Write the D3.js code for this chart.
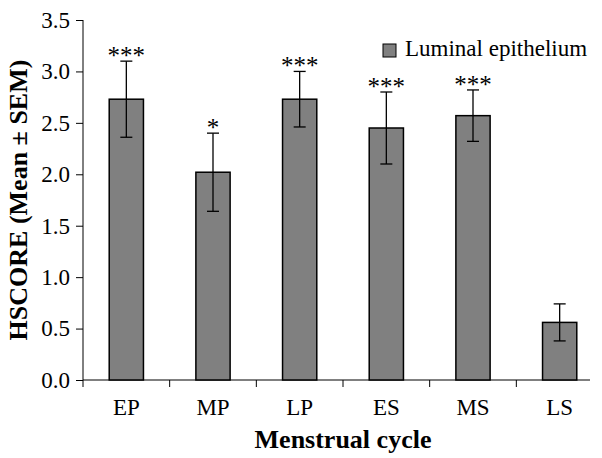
<!DOCTYPE html>
<html>
<head>
<meta charset="utf-8">
<script src="https://cdn.jsdelivr.net/npm/d3@7"></script>
<style>
	body { margin: 0; background: #fff; }
	svg { display: block; }
</style>
</head>
<body>
<div id="chart"></div>
<script>
const phases = ["EP", "MP", "LP", "ES", "MS", "LS"];
const means = [2.73, 2.02, 2.73, 2.45, 2.57, 0.56];
const sems = [0.37, 0.38, 0.27, 0.35, 0.25, 0.18];
const stars = ["***", "*", "***", "***", "***", ""];
const yTicks = [0, 0.5, 1, 1.5, 2, 2.5, 3, 3.5];

const width = 602;
const height = 458;
const margin = ({ top: 20, right: -1, bottom: 78, left: 83 });
const serif = "'Liberation Serif', 'Times New Roman', serif";

const data = phases.map((p, i) => ({ phase: p, mean: means[i], sem: sems[i], star: stars[i] }));

const x = d3.scaleBand()
	.domain(phases)
	.range([margin.left, width - margin.right]);

const y = d3.scaleLinear()
	.domain([0, 3.5])
	.range([height - margin.bottom, margin.top]);

const barW = x.bandwidth() * 0.395;

const svg = d3.select("#chart")
	.append("svg")
	.attr("width", width)
	.attr("height", height)
	.attr("viewBox", [0, 0, width, height]);

// y axis
svg.append("g")
	.attr("transform", `translate(${margin.left},0)`)
	.call(d3.axisLeft(y).tickValues(yTicks).tickFormat(d3.format(".1f")).tickSize(7).tickPadding(6))
	.call(g => g.select(".domain").attr("stroke", "#000").attr("d", `M0,${y(3.5)}V${y(0)}`))
	.call(g => g.selectAll(".tick line").attr("stroke", "#000"))
	.call(g => g.selectAll(".tick text")
		.attr("fill", "#000")
		.style("font-family", serif)
		.style("font-size", "23px"));

// x axis: ticks at band edges
const edges = phases.map(p => x(p)).concat([x(phases[phases.length - 1]) + x.step()]);
const xg = svg.append("g");
xg.append("line")
	.attr("x1", margin.left).attr("x2", 590)
	.attr("y1", y(0)).attr("y2", y(0))
	.attr("stroke", "#000");
xg.selectAll("line.tk")
	.data(edges.filter(e => e <= 590))
	.join("line")
	.attr("class", "tk")
	.attr("x1", d => d).attr("x2", d => d)
	.attr("y1", y(0)).attr("y2", y(0) + 7)
	.attr("stroke", "#000");
xg.selectAll("text")
	.data(phases)
	.join("text")
	.attr("x", d => x(d) + x.bandwidth() / 2)
	.attr("y", 415)
	.attr("text-anchor", "middle")
	.style("font-family", serif)
	.style("font-size", "23px")
	.attr("fill", "#000")
	.text(d => d);

// bars
svg.append("g")
	.selectAll("rect")
	.data(data)
	.join("rect")
	.attr("x", d => x(d.phase) + x.bandwidth() / 2 - barW / 2)
	.attr("y", d => y(d.mean))
	.attr("width", barW)
	.attr("height", d => y(0) - y(d.mean))
	.attr("fill", "#808080")
	.attr("stroke", "#000")
	.attr("stroke-width", 1.5);

// error bars
const eb = svg.append("g")
	.attr("stroke", "#000")
	.attr("stroke-width", 1.3);
const cx = d => x(d.phase) + x.bandwidth() / 2;
eb.selectAll("line.v")
	.data(data)
	.join("line")
	.attr("class", "v")
	.attr("x1", cx).attr("x2", cx)
	.attr("y1", d => y(d.mean + d.sem)).attr("y2", d => y(d.mean - d.sem));
eb.selectAll("line.t")
	.data(data)
	.join("line")
	.attr("class", "t")
	.attr("x1", d => cx(d) - 6).attr("x2", d => cx(d) + 6)
	.attr("y1", d => y(d.mean + d.sem)).attr("y2", d => y(d.mean + d.sem));
eb.selectAll("line.b")
	.data(data)
	.join("line")
	.attr("class", "b")
	.attr("x1", d => cx(d) - 6).attr("x2", d => cx(d) + 6)
	.attr("y1", d => y(d.mean - d.sem)).attr("y2", d => y(d.mean - d.sem));

// significance stars
svg.append("g")
	.selectAll("text")
	.data(data)
	.join("text")
	.attr("x", cx)
	.attr("y", d => y(d.mean + d.sem) + 3)
	.attr("text-anchor", "middle")
	.style("font-family", serif)
	.style("font-size", "25px")
	.attr("fill", "#000")
	.text(d => d.star);

// legend
const lg = svg.append("g").attr("transform", "translate(383,44)");
lg.append("rect")
	.attr("width", 13).attr("height", 13)
	.attr("fill", "#808080")
	.attr("stroke", "#000");
lg.append("text")
	.attr("x", 22).attr("y", 12)
	.style("font-family", serif)
	.style("font-size", "23px")
	.attr("fill", "#000")
	.text("Luminal epithelium");

// axis titles
svg.append("text")
	.attr("transform", "translate(27,200) rotate(-90)")
	.attr("text-anchor", "middle")
	.style("font-family", serif)
	.style("font-size", "26px")
	.attr("font-weight", "bold")
	.attr("fill", "#000")
	.text("HSCORE (Mean ± SEM)");

svg.append("text")
	.attr("x", 343)
	.attr("y", 448)
	.attr("text-anchor", "middle")
	.style("font-family", serif)
	.style("font-size", "26px")
	.attr("font-weight", "bold")
	.attr("fill", "#000")
	.text("Menstrual cycle");
</script>
</body>
</html>
